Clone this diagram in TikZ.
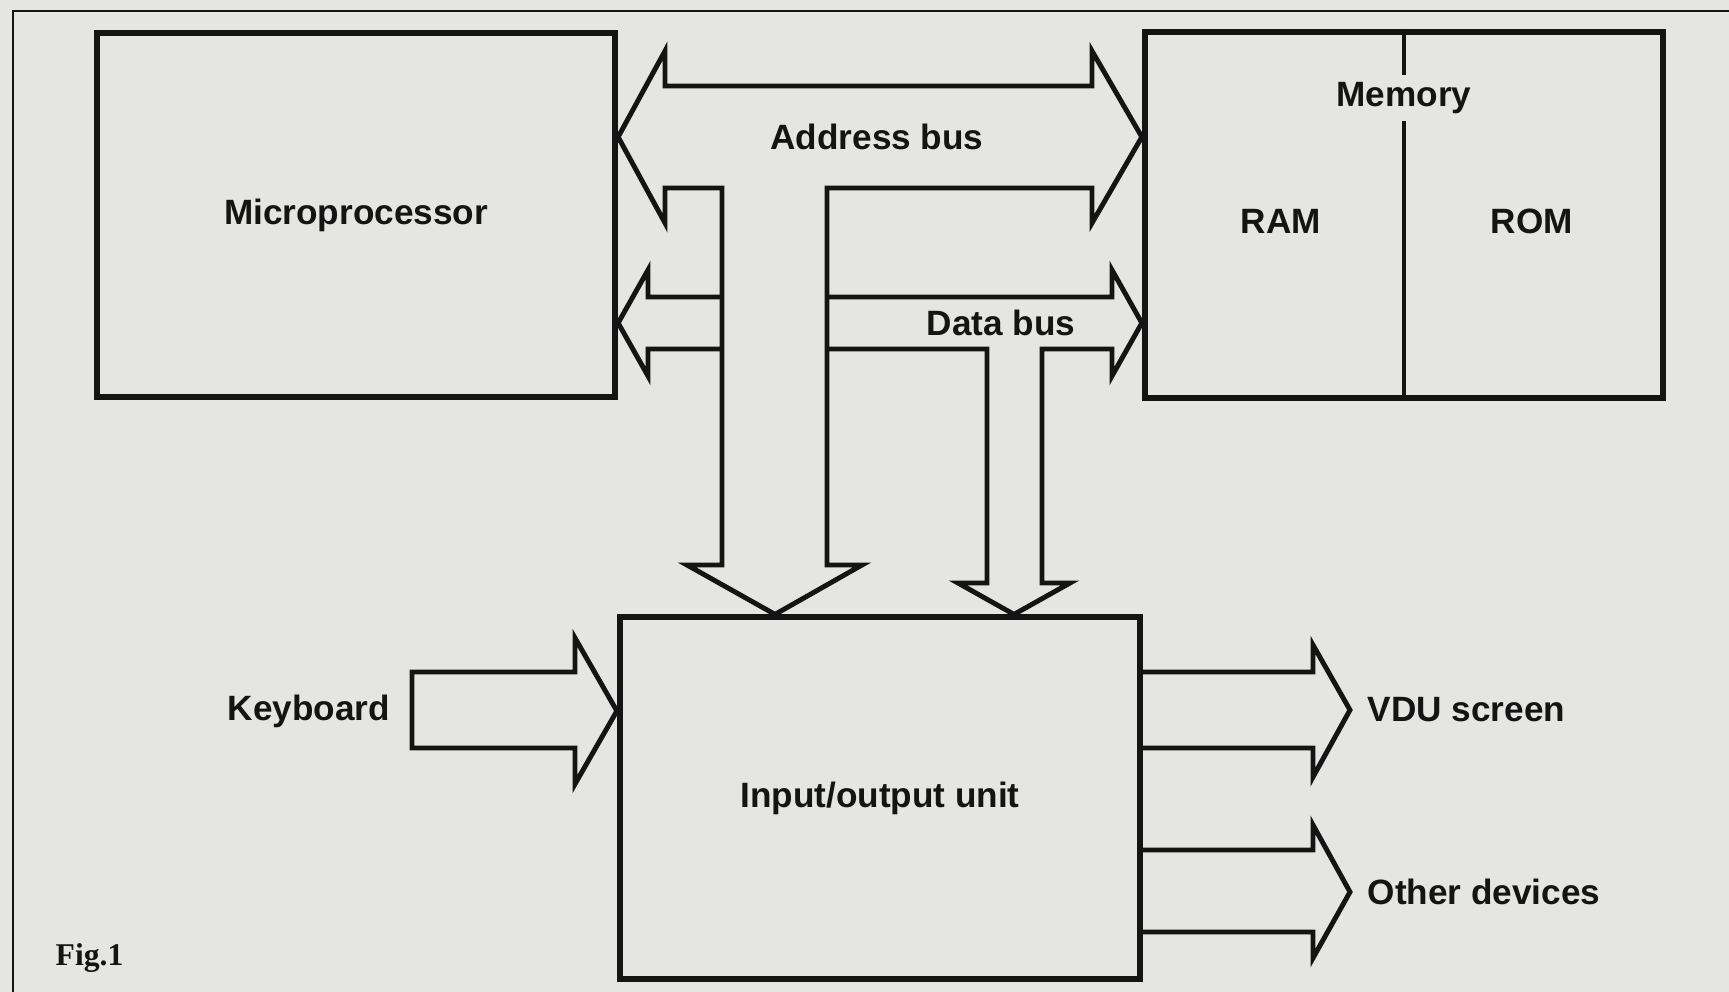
\documentclass[tikz,border=0pt]{standalone}
\usepackage{fontspec}
\setmainfont{Liberation Sans}
\newfontfamily\figfont{Liberation Serif}
\usetikzlibrary{positioning, calc}

\definecolor{paper}{RGB}{229,229,227}
\definecolor{ink}{RGB}{20,20,20}

\begin{document}
\begin{tikzpicture}[
      x=0.01cm, y=-0.01cm,
      font=\bfseries\fontsize{10}{12}\selectfont,
      unit/.style={rectangle, draw=ink, line width=1.7pt, align=center, text=ink},
      lbl/.style={inner sep=2pt, text=ink},
      bus/.style={draw=ink, line width=1.4pt, line join=miter},
      fat/.style={bus}
    ]
    % Paper and frame
    \fill[paper] (0,0) rectangle (1729,992);
    \useasboundingbox (0,0) rectangle (1729,992);
    \draw[ink, line width=0.8pt] (13,992) -- (13,11) -- (1729,11);

    % Units
    \node[unit, minimum width=5.18cm, minimum height=3.64cm] (cpu) at (356,215) {Microprocessor};
    \node[unit, minimum width=5.18cm, minimum height=3.66cm] (mem) at (1404,215) {};
    \node[unit, minimum width=5.20cm, minimum height=3.61cm] (io) at (880,798) {Input/output unit};

    % Memory halves
    \node[lbl] (memlbl) at (1404,98) {Memory};
    \node[lbl] (ram) at (1281,221) {RAM};
    \node[lbl] (rom) at (1532,221) {ROM};
    \draw[ink, line width=1.1pt] (mem.north) -- (memlbl.north);
    \draw[ink, line width=1.1pt] (memlbl.south) -- (mem.south);

    % Bus labels
    \node[lbl] (abus) at (877,137) {Address bus};
    \node[lbl] (dbus) at (1001,323) {Data bus};

    % Address bus
    \draw[bus] (cpu.east |- abus) -- (665,51) -- (665,86) -- (1092,86)
      -- (1092,51) -- (mem.west |- abus) -- (1092,223) -- (1092,188)
      -- (827,188) -- (827,565) -- (862,565) -- (775,0 |- io.north)
      -- (687,565) -- (722,565) -- (722,188) -- (665,188) -- (665,223) -- cycle;

    % Data bus
    \draw[bus] (722,297) -- (648,297) -- (648,270) -- (cpu.east |- dbus)
      -- (648,376) -- (648,349) -- (722,349);
    \draw[bus] (827,297) -- (1112,297) -- (1112,270) -- (mem.west |- dbus)
      -- (1112,376) -- (1112,349) -- (1042,349) -- (1042,583) -- (1070,583)
      -- (1014,0 |- io.north) -- (958,583) -- (987,583) -- (987,349) -- (827,349);

    % Keyboard
    \node[lbl] (kbd) at (309,711) {Keyboard};
    \draw[fat] (412,672) -- (575,672) -- (575,638) -- (io.west |- kbd)
      -- (575,784) -- (575,748) -- (412,748) -- cycle;

    % Outputs
    \coordinate (vdutip) at (1350,710);
    \coordinate (othtip) at (1350,892);
    \draw[fat] (io.east |- 0,672) -- (1313,672) -- (1313,645) -- (vdutip)
      -- (1313,777) -- (1313,748) -- (io.east |- 0,748);
    \draw[fat] (io.east |- 0,850) -- (1313,850) -- (1313,825) -- (othtip)
      -- (1313,958) -- (1313,932) -- (io.east |- 0,932);
    \node[lbl, right=0.1cm of vdutip] (vdu) {VDU screen};
    \node[lbl, right=0.1cm of othtip] (oth) {Other devices};

    % Caption
    \node[lbl, anchor=west, font=\figfont\bfseries\fontsize{9}{11}\selectfont] (fig) at (48,958) {Fig.1};
  \end{tikzpicture}
\end{document}
